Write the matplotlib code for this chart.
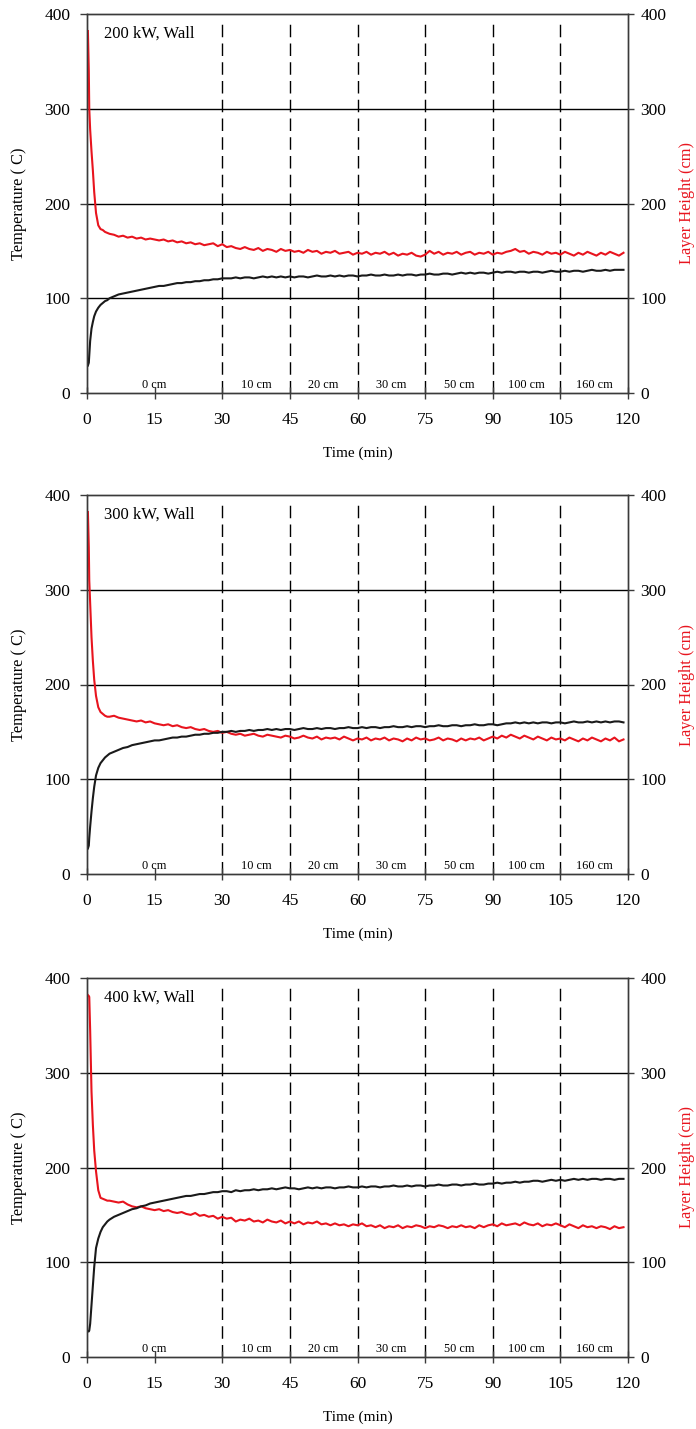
import numpy as np
import matplotlib
matplotlib.use("Agg")
import matplotlib.pyplot as plt

plt.rcParams['font.family'] = ['Liberation Serif', 'DejaVu Serif']

# time axis (min): dense at the start, then one reading per minute
t_early = [0.2, 0.4, 0.5, 0.7, 1.0, 1.3, 1.6, 2.0, 2.5, 3.0, 3.5, 4.0, 4.5]
t_late = list(range(5, 120))
time = np.array(t_early + t_late, dtype=float)

titles = ["200 kW, Wall", "300 kW, Wall", "400 kW, Wall"]

# --- 200 kW ---
temp_200 = [29, 32, 40, 55, 68, 75, 81, 86, 90, 93, 95, 97, 98,
            100, 102, 104, 105, 106, 107, 108, 109, 110, 111,
            112, 113, 113, 114, 115, 116, 116, 117, 117, 118,
            118, 119, 119, 120, 120, 121, 121, 121, 122, 121,
            122, 122, 121, 122, 123, 122, 123, 122, 123, 122,
            123, 122, 123, 123, 122, 123, 124, 123, 123, 124,
            123, 124, 123, 124, 124, 123, 124, 124, 125, 124,
            124, 125, 124, 124, 125, 124, 125, 125, 124, 125,
            125, 126, 125, 125, 126, 126, 125, 126, 127, 126,
            127, 126, 127, 127, 126, 127, 128, 127, 128, 128,
            127, 128, 128, 127, 128, 128, 127, 128, 129, 128,
            128, 129, 128, 129, 129, 128, 129, 130, 129, 129,
            130, 129, 130, 130, 130]
layer_200 = [382, 340, 300, 278, 255, 235, 212, 190, 177, 173, 172, 170, 169,
             168, 167, 165, 166, 164, 165, 163, 164, 162, 163,
             162, 161, 162, 160, 161, 159, 160, 158, 159, 157,
             158, 156, 157, 158, 155, 157, 154, 155, 153, 152,
             154, 152, 151, 153, 150, 152, 151, 149, 152, 150,
             151, 149, 150, 148, 151, 149, 150, 147, 149, 148,
             150, 147, 148, 149, 146, 148, 147, 149, 146, 148,
             147, 149, 146, 148, 145, 147, 146, 148, 145, 144,
             146, 150, 147, 149, 146, 148, 147, 149, 146, 148,
             149, 146, 148, 147, 149, 146, 148, 147, 149, 150,
             152, 149, 150, 147, 149, 148, 146, 149, 147, 148,
             146, 149, 147, 145, 148, 146, 149, 147, 145, 148,
             146, 149, 147, 145, 148]

# --- 300 kW ---
temp_300 = [27, 30, 38, 50, 66, 80, 92, 104, 112, 117, 120, 123, 125,
            127, 129, 131, 133, 134, 136, 137, 138, 139, 140,
            141, 141, 142, 143, 144, 144, 145, 145, 146, 147,
            147, 148, 148, 149, 149, 150, 150, 151, 150, 151,
            151, 152, 151, 152, 152, 153, 152, 153, 152, 153,
            153, 152, 153, 154, 153, 153, 154, 153, 154, 154,
            153, 154, 154, 155, 154, 154, 155, 154, 155, 155,
            154, 155, 155, 156, 155, 155, 156, 155, 156, 156,
            155, 156, 156, 157, 156, 156, 157, 157, 156, 157,
            157, 158, 157, 157, 158, 158, 157, 158, 159, 159,
            160, 159, 160, 159, 160, 159, 160, 160, 159, 160,
            160, 159, 160, 161, 160, 160, 161, 160, 161, 160,
            161, 160, 161, 161, 160]
layer_300 = [382, 345, 310, 285, 250, 225, 205, 188, 176, 171, 169, 167, 166,
             166, 167, 165, 164, 163, 162, 161, 162, 160, 161,
             159, 158, 157, 158, 156, 157, 155, 154, 155, 153,
             152, 153, 151, 150, 151, 149, 150, 148, 147, 148,
             146, 147, 148, 146, 145, 147, 146, 145, 144, 146,
             145, 143, 144, 146, 144, 143, 145, 142, 144, 143,
             144, 142, 145, 143, 141, 143, 142, 144, 141, 143,
             142, 144, 141, 143, 142, 140, 143, 141, 144, 142,
             143, 141, 142, 144, 141, 143, 142, 140, 143, 141,
             143, 142, 144, 141, 143, 145, 143, 146, 144, 147,
             145, 143, 146, 144, 142, 145, 143, 141, 144, 142,
             143, 141, 144, 142, 140, 143, 141, 144, 142, 140,
             143, 141, 144, 140, 142]

# --- 400 kW ---
temp_400 = [27, 27, 28, 35, 55, 75, 95, 115, 125, 132, 137, 140, 143,
            145, 148, 150, 152, 154, 156, 157, 159, 160, 162,
            163, 164, 165, 166, 167, 168, 169, 170, 170, 171,
            172, 172, 173, 174, 174, 175, 175, 174, 176, 175,
            176, 176, 177, 176, 177, 177, 178, 177, 178, 179,
            178, 178, 177, 178, 179, 178, 179, 178, 179, 179,
            178, 179, 179, 180, 179, 179, 180, 179, 180, 180,
            179, 180, 180, 181, 180, 180, 181, 180, 181, 181,
            180, 181, 181, 182, 181, 181, 182, 182, 181, 182,
            182, 183, 182, 182, 183, 183, 184, 183, 184, 184,
            185, 184, 185, 185, 186, 186, 185, 186, 187, 186,
            187, 186, 187, 188, 187, 188, 187, 188, 188, 187,
            188, 188, 187, 188, 188]
layer_400 = [382, 381, 380, 345, 280, 245, 218, 196, 176, 168, 167, 166, 165,
             165, 164, 163, 164, 161, 159, 158, 159, 157, 156,
             155, 156, 154, 155, 153, 152, 153, 151, 150, 152,
             149, 150, 148, 149, 146, 148, 146, 147, 143, 145,
             144, 146, 143, 144, 142, 145, 143, 142, 144, 141,
             143, 141, 143, 140, 142, 141, 143, 140, 141, 139,
             141, 139, 140, 138, 140, 139, 141, 138, 139, 137,
             139, 136, 138, 137, 139, 136, 138, 137, 139, 138,
             136, 138, 137, 139, 138, 136, 138, 137, 139, 137,
             138, 136, 139, 137, 139, 140, 138, 141, 139, 140,
             141, 139, 142, 140, 139, 141, 138, 140, 139, 141,
             139, 137, 140, 138, 136, 139, 137, 138, 136, 138,
             137, 135, 138, 136, 137]

temps = [temp_200, temp_300, temp_400]
layers = [layer_200, layer_300, layer_400]

# nozzle-height segments
seg_edges = [0, 30, 45, 60, 75, 90, 105, 120]
seg_names = ["0 cm", "10 cm", "20 cm", "30 cm", "50 cm", "100 cm", "160 cm"]

W, H = 696, 1429
fig = plt.figure(figsize=(W / 100, H / 100), dpi=100)

ax_left = 87 / W
ax_width = 541 / W
ax_height = 379 / H
bottoms = [(H - 393) / H, (H - 874) / H, (H - 1357) / H]

red = '#e8141e'
spine_col = '#3a3a3a'

for i in range(3):
    ax = fig.add_axes([ax_left, bottoms[i], ax_width, ax_height])
    ax.set_xlim(0, 120)
    ax.set_ylim(0, 400)
    ax.set_xticks(np.arange(0, 121, 15))
    ax.set_yticks([0, 100, 200, 300, 400])

    for y in [100, 200, 300]:
        ax.axhline(y, color='black', lw=1.0, zorder=1)
    for x in seg_edges[1:-1]:
        ax.plot([x, x], [0, 394], color='black', lw=1.0,
                linestyle=(0, (9, 4.5)), zorder=1)

    ax.plot(time, layers[i], color=red, lw=1.5, zorder=3)
    ax.plot(time, temps[i], color='#1a1a1a', lw=1.5, zorder=3)

    for k, name in enumerate(seg_names):
        xc = 0.5 * (seg_edges[k] + seg_edges[k + 1])
        ax.text(xc, 8, name, ha='center', va='center', fontsize=8.8)

    ax.text(3.8, 379, titles[i], ha='left', va='center', fontsize=12)

    for s in ax.spines.values():
        s.set_color(spine_col)
        s.set_linewidth(1.0)
    ax.tick_params(axis='x', direction='inout', length=8, width=1.0,
                   color=spine_col, labelsize=12.5, pad=10)
    ax.tick_params(axis='y', direction='out', length=5, width=1.0,
                   color=spine_col, labelsize=12.5, pad=7)

    ax.set_xlabel("Time (min)", fontsize=11)
    ax.xaxis.set_label_coords(0.5, -0.142)
    ax.set_ylabel("Temperature ( C)", fontsize=11.8)
    ax.yaxis.set_label_coords(-0.111, 0.5)

    ax2 = ax.twinx()
    ax2.set_ylim(0, 400)
    ax2.set_yticks([0, 100, 200, 300, 400])
    ax2.tick_params(axis='y', direction='out', length=4, width=1.0,
                    color=spine_col, labelsize=12.5, pad=5)
    for s in ax2.spines.values():
        s.set_color(spine_col)
        s.set_linewidth(1.0)
    ax2.set_ylabel("Layer Height (cm)", fontsize=11.8, color=red)
    ax2.yaxis.set_label_coords(1.095, 0.5)

fig.savefig("out.png", dpi=100)
